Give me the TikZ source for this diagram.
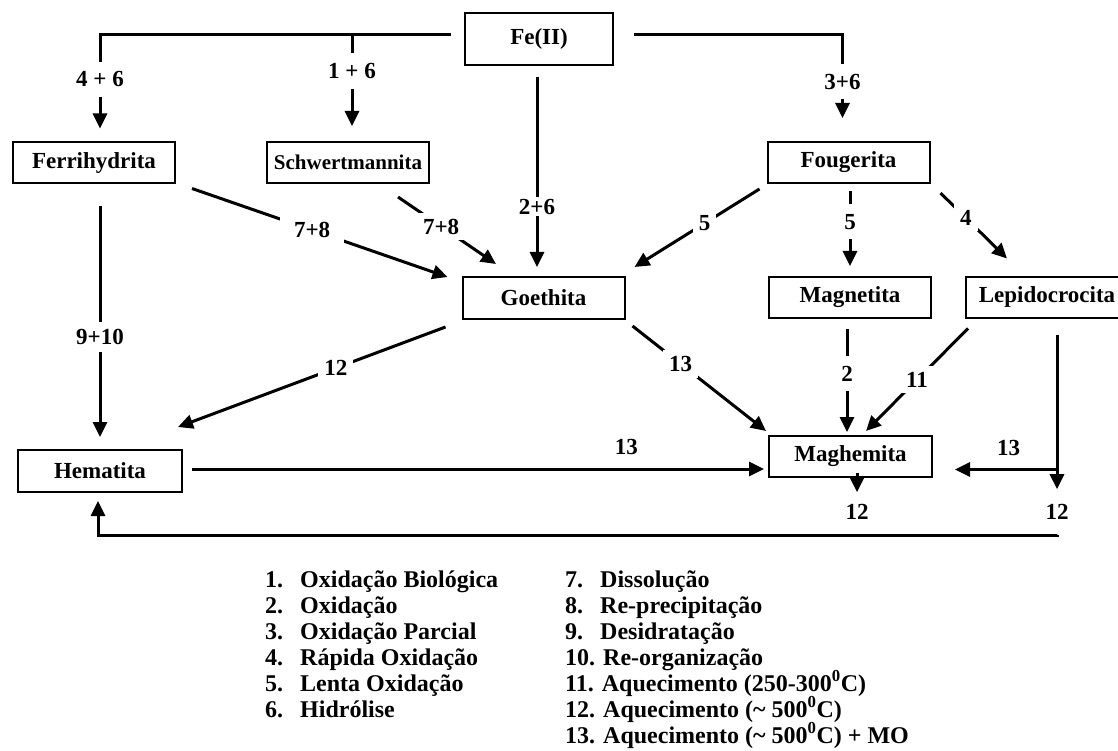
\documentclass[tikz,border=0pt]{standalone}
\usepackage{fontspec}
\setmainfont{Liberation Serif}
\usetikzlibrary{arrows.meta, calc}
\newcommand{\legno}[1]{\makebox[35pt][l]{#1}}
\tikzset{
x=1pt, y=-1pt, % one unit is one pixel of the scan, y runs downwards
box/.style={draw, line width=2pt, minimum width=162pt, minimum height=41pt, inner sep=0pt, font=\fontsize{23}{27}\selectfont\bfseries}, % mineral boxes
flow/.style={line width=3pt, -{Triangle[length=15pt,width=14pt]}}, % arrows between minerals
plain/.style={line width=3pt},
num/.style={inner sep=0pt, font=\fontsize{23}{27}\selectfont\bfseries}, % process numbers
lbl/.style={num, fill=white, inner xsep=6pt, inner ysep=10pt}, % numbers that break the line
legend/.style={anchor=base west, inner sep=0pt, font=\fontsize{24}{27}\selectfont\bfseries},
}
\begin{document}
\begin{tikzpicture}
\useasboundingbox (0,0) rectangle (1118,751);

% minerals
\node[box, minimum width=148pt, minimum height=52pt] (fe) at (539,39) {Fe(II)};
\node[box] (ferri) at (94,163) {Ferrihydrita};
\node[box, font=\fontsize{21}{25}\selectfont\bfseries] (schw) at (348,162.5) {Schwertmannita};
\node[box] (foug) at (848.5,162.5) {Fougerita};
\node[box, minimum height=42pt] (goeth) at (543.5,298) {Goethita};
\node[box] (magn) at (850,297.5) {Magnetita};
\node[box] (lepi) at (1047,297) {Lepidocrocita};
\node[box, minimum width=164pt, minimum height=42pt] (hem) at (100,471) {Hematita};
\node[box, minimum width=163pt] (magh) at (850.5,456.5) {Maghemita};

\coordinate (top) at (0,35);
\coordinate (bot) at (0,535);
\coordinate (rj) at ($(lepi.south)+(10,151)$);
\node[num] (r12) at (1057,512) {12};
\node[num] (m12) at (857,512) {12};

% from Fe(II)
\draw[flow, shorten <=13pt, shorten >=13pt] (fe.west |- top) -| node[lbl, pos=0.708] {4 + 6} ([xshift=6pt]ferri.north);
\draw[flow, shorten >=15pt] ([xshift=4pt]schw.north |- top) -- node[lbl, pos=0.34] {1 + 6} ([xshift=4pt]schw.north);
\draw[flow, shorten <=20pt, shorten >=23pt] (fe.east |- top) -| node[lbl, pos=0.72] {3+6} ([xshift=-6pt]foug.north);
\draw[flow, shorten <=11pt, shorten >=9pt] ([xshift=-2pt]fe.south) -- node[lbl, inner ysep=2pt, pos=0.67] {2+6} ([xshift=-2pt]fe.south |- goeth.north);

% to goethita
\draw[flow] ($(ferri.south east)+(16,4)$) -- node[lbl, inner xsep=14pt, pos=0.47] {7+8} ($(goeth.north west)+(-14,1)$);
\draw[flow] ($(schw.south)+(50,13)$) -- node[lbl, inner ysep=6pt, pos=0.44] {7+8} ($(goeth.north)+(-47.5,-12)$);
\draw[flow] ($(foug.south west)+(-7,5)$) -- node[lbl, inner ysep=6pt, pos=0.44] {5} ($(goeth.north east)+(9,-9)$);

% from fougerita
\draw[flow, shorten <=7pt, shorten >=10pt] ([xshift=1.5pt]foug.south) -- node[lbl, pos=0.41] {5} (magn.north);
\draw[flow] ($(foug.south east)+(10,9)$) -- node[lbl, inner ysep=6pt, pos=0.38] {4} ($(lepi.north west)+(42,-17)$);

% to hematita
\draw[flow, shorten <=22pt, shorten >=12pt] (hem.north |- ferri.south) -- node[lbl, inner ysep=7pt, pos=0.577] {9+10} (hem.north);
\draw[flow] ($(goeth.south west)+(-16,7)$) -- node[lbl, inner ysep=6pt, pos=0.41] {12} ($(hem.north east)+(-5,-22)$);

% to maghemita
\draw[flow] ($(goeth.south east)+(7,6)$) -- node[lbl, inner ysep=6pt, pos=0.36] {13} ($(magh.north west)+(-2,-4)$);
\draw[flow, shorten <=10pt, shorten >=3pt] ([xshift=-3pt]magn.south) -- node[lbl, pos=0.47] {2} ([xshift=-3pt]magn.south |- magh.north);
\draw[flow] ($(lepi.south west)+(3,10)$) -- node[lbl, inner ysep=6pt, pos=0.5] {11} ($(magh.north)+(15.5,-4)$);
\draw[flow, shorten <=9pt, shorten >=4pt] ([yshift=2pt]hem.east) -- node[num, above=13pt, pos=0.758] {13} ([yshift=2pt]hem.east -| magh.west);
\draw[flow] ($(lepi.south)+(10,16)$) -- (r12) [shorten >=15pt];
\draw[flow, shorten >=22pt] (rj) -- node[num, above=12pt, pos=0.39] {13} (magh.east |- rj);

% back to hematita
\draw[flow, shorten <=5pt, shorten >=12pt] (magh.south -| m12) -- (m12);
\draw[plain, shorten <=15pt] (m12) -- (m12 |- bot);
\draw[flow, shorten <=15pt, shorten >=8pt] (r12) -- (r12 |- bot) -| ([xshift=-2pt]hem.south);

% legend
\node[legend] (l1) at (265,587) {\legno{1.}Oxidação Biológica};
\node[legend] (l2) at (265,613) {\legno{2.}Oxidação};
\node[legend] (l3) at (265,639) {\legno{3.}Oxidação Parcial};
\node[legend] (l4) at (265,665) {\legno{4.}Rápida Oxidação};
\node[legend] (l5) at (265,691) {\legno{5.}Lenta Oxidação};
\node[legend] (l6) at (265,717) {\legno{6.}Hidrólise};
\node[legend] (l7) at (565,587) {\legno{7.}Dissolução};
\node[legend] (l8) at (565,613) {\legno{8.}Re-precipitação};
\node[legend] (l9) at (565,639) {\legno{9.}Desidratação};
\node[legend] (l10) at (565,665) {10. Re-organização};
\node[legend] (l11) at (565,691) {11. Aquecimento (250-300\textsuperscript{0}C)};
\node[legend] (l12) at (565,717) {12. Aquecimento (\textasciitilde{} 500\textsuperscript{0}C)};
\node[legend] (l13) at (565,743) {13. Aquecimento (\textasciitilde{} 500\textsuperscript{0}C) + MO};
\end{tikzpicture}
\end{document}
